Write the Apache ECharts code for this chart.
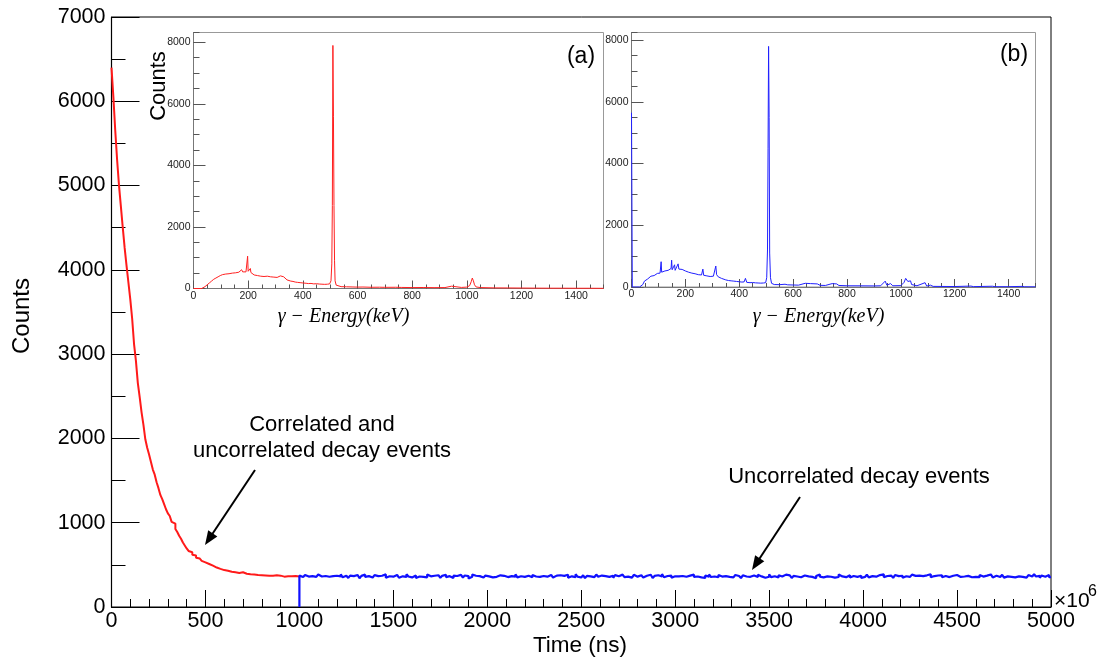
<!DOCTYPE html>
<html>
<head>
<meta charset="utf-8">
<script src="https://cdn.jsdelivr.net/npm/echarts@6/dist/echarts.min.js"></script>
<style>html,body{margin:0;padding:0;background:#fff}#c{width:1108px;height:664px}</style>
</head>
<body>
<div id="c"></div>
<script>
// ---- main histogram (Time, ns), 10 ns bins ----
const binWidth = 10;
const redStart = 0;
const redCounts = [
6400,6050,5650,5300,5000,4750,4500,4260,4050,3850,
3650,3420,3120,2920,2660,2490,2310,2160,1990,1890,
1810,1720,1630,1570,1480,1410,1330,1280,1220,1160,
1110,1080,1010,990,925,890,845,810,765,730,
695,665,650,620,610,585,575,560,548,530,
528,510,505,490,485,468,472,452,455,438,
448,430,428,418,432,412,420,404,402,412,
398,395,402,388,392,385,390,380,386,378,
382,375,379,370,385,372,368,376,365,372,
368,360,371,364,358,366,362,369,357,363];
const blueStart = 1000;
const blueCounts = [
372,355,368,380,361,349,366,377,358,370,385,362,350,368,375,359,343,366,380,371,
356,364,389,352,370,361,345,373,367,358,379,363,341,369,384,357,366,372,350,362,
378,366,354,371,359,387,348,365,376,360,353,381,369,347,364,373,358,390,362,351,
367,375,344,362,380,357,369,352,386,364,348,371,359,377,363,346,370,382,355,366,
359,343,372,368,356,381,363,350,374,367,339,360,385,371,354,366,378,349,362,373,
364,380,352,369,358,347,376,361,370,383,355,345,367,374,360,388,351,365,372,357,
348,371,366,354,379,362,385,357,343,368,375,360,352,381,365,349,372,363,377,356,
369,358,382,347,364,373,355,389,361,350,367,376,342,370,363,379,354,368,385,359,
373,351,366,380,357,363,370,346,378,365,352,384,369,355,361,374,348,367,382,360,
355,376,362,349,371,358,383,366,344,369,377,356,364,391,353,368,359,372,347,365,
381,363,350,368,375,359,346,372,366,384,357,362,378,351,369,345,374,360,387,356,
362,370,353,379,361,348,367,385,358,371,352,364,380,368,355,343,376,362,369,358,
350,374,366,357,382,363,371,347,368,359,388,354,365,372,349,377,361,356,384,367,
376,358,345,369,362,380,353,366,374,351,363,379,357,370,342,367,385,360,352,373,
364,381,359,372,348,367,356,386,363,370,354,361,377,349,368,382,358,365,371,344,
357,369,383,352,366,374,360,347,379,364,388,355,368,351,373,362,345,380,366,359,
371,346,365,378,357,363,384,369,350,372,358,366,343,376,361,389,354,367,359,374,
360,377,352,368,383,355,364,371,349,380,366,357,374,362,347,369,385,353,370,358,
366,354,379,361,345,372,359,386,364,351,370,377,356,368,382,349,363,375,358,367,
352,369,363,384,357,373,348,366,379,361,355,388,362,370,346,374,359,367,381,353];

// ---- inset (a): gamma spectrum, correlated window ----
const energyA = [0,30,36,42,50,58,66,74,82,90,98,106,112,118,124,130,136,142,148,154,160,166,172,176,180,186,192,196,198,200,204,208,210,216,222,228,234,240,246,252,258,264,270,276,282,288,294,300,306,312,318,324,330,336,342,348,356,364,372,380,390,400,406,412,420,430,440,450,460,470,480,490,498,503,506,508,510,512,514,516,518,522,528,540,560,580,600,620,650,680,700,740,760,800,840,880,920,944,950,980,1000,1010,1016,1020,1024,1028,1034,1050,1100,1150,1200,1250,1300,1350,1400,1450,1500];
const countsA = [0,0,10,60,120,180,240,300,340,380,420,450,480,470,500,480,470,500,490,510,500,530,560,610,540,560,540,560,1050,560,540,650,520,470,440,460,420,430,400,410,390,380,400,370,380,360,370,380,360,390,410,390,380,330,280,260,240,230,210,200,190,180,200,170,160,165,150,155,145,140,135,140,150,250,800,2700,7900,5600,2700,900,250,110,70,60,55,50,45,48,40,42,38,40,35,30,32,28,30,75,40,35,45,90,220,340,250,120,50,30,20,18,15,12,10,10,8,8,6];

// ---- inset (b): gamma spectrum, uncorrelated window ----
const energyB = [0,3,30,36,42,48,54,60,66,72,78,84,90,96,102,106,110,112,118,124,130,136,142,147,149,151,156,160,162,168,173,176,182,188,194,200,206,212,218,224,230,236,242,248,254,260,265,268,274,280,286,292,298,304,310,313,316,322,328,334,340,350,360,370,380,390,400,410,418,423,428,440,450,460,470,480,490,498,502,505,507,509,511,513,516,520,530,550,570,580,600,620,645,650,665,670,690,700,720,745,750,762,770,800,850,900,925,942,948,962,970,1000,1012,1018,1022,1026,1032,1036,1040,1060,1090,1096,1110,1120,1200,1260,1270,1340,1350,1400,1450,1460,1500];
const countsB = [5650,0,0,10,80,190,230,260,310,350,380,370,420,440,460,450,820,480,500,520,510,540,500,600,870,560,580,720,540,600,750,580,560,570,540,520,500,480,470,450,460,430,420,400,410,390,580,380,370,360,350,340,360,350,380,680,400,330,300,280,260,230,210,200,190,180,170,160,165,280,150,140,145,135,130,125,130,140,300,1200,4500,7800,5500,1100,300,120,80,75,90,70,65,60,120,60,110,60,100,55,50,110,55,100,50,40,38,35,40,190,60,110,40,45,150,280,320,180,120,200,80,40,140,30,60,20,15,30,12,25,10,10,20,8,5];

// ---- axes ranges / ticks ----
const mainX = {min: 0, max: 5000, step: 500};
const mainY = {min: 0, max: 7000, step: 1000};
const insetX = {min: 0, max: 1500, step: 200, minor: 50};
const insetYA = {min: 0, max: 8320, step: 2000, minor: 500};
const insetYB = {min: 0, max: 8250, step: 2000, minor: 500};

function hist(start, counts, leadZero) {
  const d = [];
  if (leadZero) d.push([start, 0]);
  counts.forEach((v, i) => d.push([start + i * binWidth, v]));
  d.push([start + counts.length * binWidth, counts[counts.length - 1]]);
  return d;
}
function zip(a, b) { return a.map((x, i) => [x, b[i]]); }
const plain = v => String(v);

const FONT = 'Liberation Sans, Arial, Helvetica, sans-serif';
const chart = echarts.init(document.getElementById('c'), null, {renderer: 'canvas'});

function insetAxesX(grid) {
  return [
    {type: 'value', gridIndex: grid, position: 'bottom', min: insetX.min, max: insetX.max, interval: insetX.step,
      axisLine: {show: true, lineStyle: {color: '#777', width: 1}},
      axisTick: {show: true, inside: true, length: 8, lineStyle: {color: '#555'}},
      axisLabel: {show: true, fontSize: 10.5, color: '#222', margin: 2, fontFamily: FONT, showMaxLabel: false, formatter: plain},
      splitLine: {show: false}},
    {type: 'value', gridIndex: grid, position: 'bottom', min: insetX.min, max: insetX.max, interval: insetX.minor,
      axisLine: {show: false}, axisTick: {show: true, inside: true, length: 4, lineStyle: {color: '#555'}},
      axisLabel: {show: false}, splitLine: {show: false}}
  ];
}
function insetAxesY(grid, r) {
  return [
    {type: 'value', gridIndex: grid, position: 'left', min: r.min, max: r.max, interval: r.step,
      axisLine: {show: true, lineStyle: {color: '#777', width: 1}},
      axisTick: {show: true, inside: true, length: 12, lineStyle: {color: '#555'}},
      axisLabel: {show: true, fontSize: 10.5, color: '#222', margin: 3, fontFamily: FONT, showMaxLabel: false, formatter: plain},
      splitLine: {show: false}},
    {type: 'value', gridIndex: grid, position: 'left', min: r.min, max: r.max, interval: r.minor,
      axisLine: {show: false}, axisTick: {show: true, inside: true, length: 6, lineStyle: {color: '#555'}},
      axisLabel: {show: false}, splitLine: {show: false}}
  ];
}

function arrow(x1, y1, x2, y2) {
  const dx = x2 - x1, dy = y2 - y1, L = Math.hypot(dx, dy);
  const ux = dx / L, uy = dy / L, px = -uy, py = ux;
  const hl = 14, hw = 5.5;
  const bx = x2 - ux * hl, by = y2 - uy * hl;
  return [
    {type: 'line', shape: {x1: x1, y1: y1, x2: bx + ux * 2, y2: by + uy * 2}, style: {stroke: '#000', lineWidth: 2}},
    {type: 'polygon', shape: {points: [[x2, y2], [bx + px * hw, by + py * hw], [bx - px * hw, by - py * hw]]}, style: {fill: '#000'}}
  ];
}

const txt = (x, y, text, size, extra) => Object.assign({
  type: 'text', x: x, y: y,
  style: {text: text, fontSize: size, fontFamily: FONT, fill: '#000', align: 'center', verticalAlign: 'middle'}
}, extra || {});

const option = {
  animation: false,
  backgroundColor: '#fff',
  grid: [
    {left: 111.5, top: 17, width: 939.5, height: 590, show: true, borderColor: '#000', borderWidth: 1, backgroundColor: 'transparent', outerBoundsMode: 'none', containLabel: false},
    {left: 193.5, top: 32.5, width: 410, height: 256, show: true, borderColor: '#999', borderWidth: 1, backgroundColor: '#fff', outerBoundsMode: 'none', containLabel: false},
    {left: 631.5, top: 32.5, width: 404, height: 254.5, show: true, borderColor: '#999', borderWidth: 1, backgroundColor: '#fff', outerBoundsMode: 'none', containLabel: false}
  ],
  xAxis: [
    {type: 'value', gridIndex: 0, position: 'bottom', min: mainX.min, max: mainX.max, interval: mainX.step,
      axisLine: {show: true, lineStyle: {color: '#000', width: 1.2}},
      axisTick: {show: true, inside: true, length: 17, lineStyle: {color: '#000'}},
      minorTick: {show: true, splitNumber: 5, length: 8, lineStyle: {color: '#000'}},
      axisLabel: {fontSize: 21.5, color: '#000', margin: 3, fontFamily: FONT, formatter: plain},
      splitLine: {show: false}, minorSplitLine: {show: false}},
    ...insetAxesX(1), ...insetAxesX(2)
  ],
  yAxis: [
    {type: 'value', gridIndex: 0, position: 'left', min: mainY.min, max: mainY.max, interval: mainY.step,
      axisLine: {show: true, lineStyle: {color: '#000', width: 1.2}},
      axisTick: {show: true, inside: true, length: 28, lineStyle: {color: '#000'}},
      minorTick: {show: true, splitNumber: 2, length: 14, lineStyle: {color: '#000'}},
      axisLabel: {fontSize: 21.5, color: '#000', margin: 6, fontFamily: FONT, formatter: plain},
      splitLine: {show: false}, minorSplitLine: {show: false}},
    ...insetAxesY(1, insetYA), ...insetAxesY(2, insetYB)
  ],
  series: [
    {type: 'line', name: 'correlated', xAxisIndex: 0, yAxisIndex: 0, step: 'end', showSymbol: false,
      data: hist(redStart, redCounts, false), lineStyle: {color: '#ff1a1a', width: 2}, z: 3},
    {type: 'line', name: 'uncorrelated', xAxisIndex: 0, yAxisIndex: 0, step: 'end', showSymbol: false,
      data: hist(blueStart, blueCounts, true), lineStyle: {color: '#1010ff', width: 2.2}, z: 3},
    {type: 'line', name: 'gammaA', xAxisIndex: 1, yAxisIndex: 1, showSymbol: false,
      data: zip(energyA, countsA), lineStyle: {color: '#ff2020', width: 1}, z: 5},
    {type: 'line', name: 'gammaB', xAxisIndex: 3, yAxisIndex: 3, showSymbol: false,
      data: zip(energyB, countsB), lineStyle: {color: '#2020ff', width: 1}, z: 5}
  ],
  graphic: [
    txt(22, 316, 'Counts', 24, {rotation: Math.PI / 2}),
    txt(580, 646, 'Time (ns)', 22.5),
    {type: 'text', x: 1054, y: 601, style: {text: '×10', fontSize: 21, fontFamily: FONT, fill: '#000', align: 'left', verticalAlign: 'middle'}},
    {type: 'text', x: 1088, y: 592, style: {text: '6', fontSize: 16, fontFamily: FONT, fill: '#000', align: 'left', verticalAlign: 'middle'}},
    txt(322, 425, 'Correlated and', 22),
    txt(322, 451, 'uncorrelated decay events', 22),
    txt(859, 477, 'Uncorrelated decay events', 22),
    ...arrow(255, 470, 205, 545),
    ...arrow(800, 497, 752, 570),
    txt(158.5, 86, 'Counts', 22, {rotation: Math.PI / 2, z: 10}),
    txt(581, 57, '(a)', 23, {z: 10}),
    txt(1014, 55, '(b)', 23, {z: 10}),
    {type: 'text', x: 343.5, y: 317, z: 10, style: {text: 'γ − Energy(keV)', fontSize: 20, fontStyle: 'italic', fontFamily: 'Liberation Serif, DejaVu Serif, serif', fill: '#000', align: 'center', verticalAlign: 'middle'}},
    {type: 'text', x: 818.5, y: 317, z: 10, style: {text: 'γ − Energy(keV)', fontSize: 20, fontStyle: 'italic', fontFamily: 'Liberation Serif, DejaVu Serif, serif', fill: '#000', align: 'center', verticalAlign: 'middle'}}
  ]
};
chart.setOption(option);
</script>
</body>
</html>
